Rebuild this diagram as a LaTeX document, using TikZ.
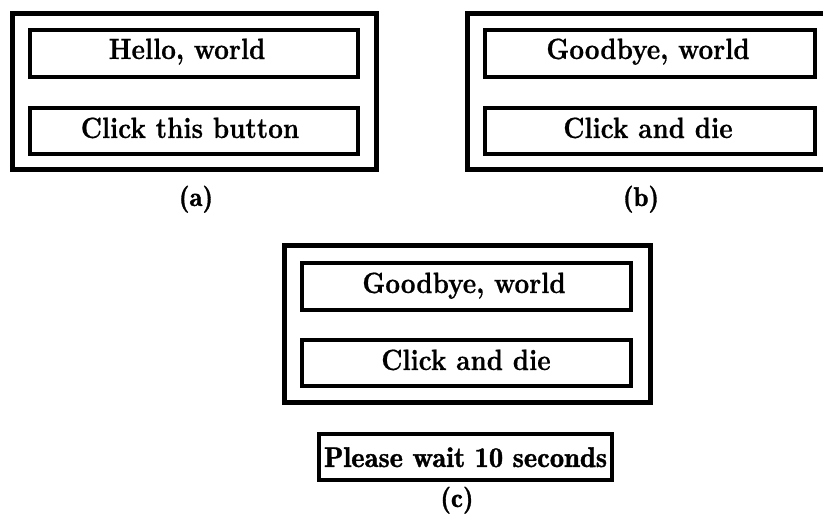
\documentclass[tikz,border=0pt]{standalone}
\usepackage{fontspec}
\usepackage{graphicx}
\newfontfamily\btnfont{lmroman10-bold.otf}[FakeBold=0.6]
\newfontfamily\demifont{lmromandemi10-regular.otf}[FakeBold=1.2]
% button labels are set slightly taller than wide
\newcommand\tallbox[1]{\scalebox{1}[1.15]{#1}}
\begin{document}
\begin{tikzpicture}[x=1pt,y=-1pt,
  frame/.style={draw,line width=5pt,inner sep=0pt,rectangle},
  button/.style={draw,line width=4.5pt,inner sep=0pt,rectangle},
  btntext/.style={anchor=base,inner sep=0pt,font=\btnfont\fontsize{25.5}{30}\selectfont},
  waittext/.style={anchor=base,inner sep=0pt,font=\demifont\fontsize{28.5}{30}\selectfont},
  caption/.style={anchor=base,inner sep=0pt,font=\demifont\fontsize{27}{30}\selectfont}]
\useasboundingbox (0,0) rectangle (823,518);

% (a) initial window
\node[frame,minimum width=363.5,minimum height=156] (wa) at (194.25,92) {};
\node[button,minimum width=328,minimum height=47] (ha) at (194,53.5) {};
\node[button,minimum width=328,minimum height=46] (ca) at (194,131) {};
\node[btntext] (hta) at (187,59) {\tallbox{Hello, world}};
\node[btntext] (cta) at (190,138) {\tallbox{Click this button}};
\node[caption] (la) at (196,206) {(a)};

% (b) after the first click; the window runs past the right edge
\begin{scope}
\clip (0,0) rectangle (823,518);
\node[frame,minimum width=363.5,minimum height=156] (wb) at (649.25,92) {};
\end{scope}
\node[button,minimum width=330,minimum height=47] (hb) at (650,53.5) {};
\node[button,minimum width=330,minimum height=46] (cb) at (650,131) {};
\node[btntext] (htb) at (648,59) {\tallbox{Goodbye, world}};
\node[btntext] (ctb) at (648,138) {\tallbox{Click and die}};
\node[caption] (lb) at (641,206) {(b)};

% (c) after the second click, with the pop-up message
\node[frame,minimum width=366,minimum height=157] (wc) at (467,324.5) {};
\node[button,minimum width=329,minimum height=47] (hc) at (466.5,286.5) {};
\node[button,minimum width=329,minimum height=46] (cc) at (466.5,363) {};
\node[btntext] (htc) at (464,293) {\tallbox{Goodbye, world}};
\node[btntext] (ctc) at (466,370) {\tallbox{Click and die}};
\node[button,minimum width=293,minimum height=46] (pw) at (465.5,457) {};
\node[waittext] (pwt) at (465.5,467) {Please wait 10 seconds};
\node[caption] (lc) at (457,507) {(c)};
\end{tikzpicture}
\end{document}
